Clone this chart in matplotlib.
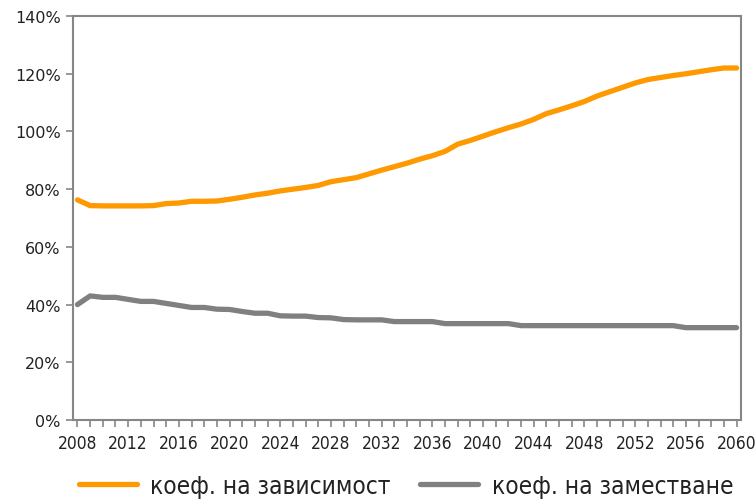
import matplotlib
matplotlib.use("Agg")
import matplotlib.pyplot as plt
from matplotlib.ticker import MultipleLocator, FuncFormatter

plt.rcParams["font.family"] = ["DejaVu Sans"]

years = list(range(2008, 2061))

# коефициент на зависимост (%)
dependency = [76.3, 74.3, 74.2, 74.2, 74.2, 74.2, 74.3, 75.0, 75.2, 75.8,
              75.8, 75.9, 76.5, 77.2, 78.0, 78.6, 79.4, 80.0, 80.6, 81.3,
              82.6, 83.3, 84.0, 85.3, 86.6, 87.8, 89.0, 90.4, 91.6, 93.1,
              95.6, 96.9, 98.4, 99.9, 101.3, 102.6, 104.2, 106.2, 107.5, 108.9,
              110.4, 112.3, 113.8, 115.3, 116.8, 118.0, 118.7, 119.4, 120.0, 120.7,
              121.4, 122.0, 122.0]

# коефициент на заместване (%)
replacement = [40.0, 43.0, 42.5, 42.5, 41.8, 41.1, 41.1, 40.4, 39.7, 39.0,
               39.0, 38.4, 38.3, 37.6, 37.0, 37.0, 36.1, 36.0, 36.0, 35.5,
               35.4, 34.8, 34.7, 34.7, 34.7, 34.1, 34.1, 34.1, 34.1, 33.4,
               33.4, 33.4, 33.4, 33.4, 33.4, 32.7, 32.7, 32.7, 32.7, 32.7,
               32.7, 32.7, 32.7, 32.7, 32.7, 32.7, 32.7, 32.7, 32.0, 32.0,
               32.0, 32.0, 32.0]

labels = ["коеф. на зависимост", "коеф. на заместване"]
colors = ["#FF9900", "#808080"]
axis_gray = "#868686"

fig = plt.figure(figsize=(7.56, 5.02), dpi=100)
ax = fig.add_axes([0.0966, 0.1614, 0.8836, 0.8046])

ax.plot(years, dependency, color=colors[0], linewidth=3.8,
        solid_capstyle="round", label=labels[0])
ax.plot(years, replacement, color=colors[1], linewidth=3.8,
        solid_capstyle="round", label=labels[1])

ax.set_xlim(2007.65, 2060.35)
ax.set_ylim(0, 140)

ax.yaxis.set_major_locator(MultipleLocator(20))
ax.yaxis.set_major_formatter(FuncFormatter(lambda v, p: f"{v:.0f}%"))
ax.set_xticks(years[::4])
ax.set_xticks(years, minor=True)

for sp in ax.spines.values():
    sp.set_color(axis_gray)
    sp.set_linewidth(1.5)

ax.tick_params(axis="y", direction="out", length=5, width=1.2,
               color=axis_gray, labelsize=11.5, pad=4)
ax.tick_params(axis="x", which="both", direction="out", length=5, width=1.2,
               color=axis_gray, pad=5)
for lab in ax.get_yticklabels():
    lab.set_color("#222222")
for lab in ax.get_xticklabels():
    lab.set_fontsize(12.5)
    lab.set_fontstretch("condensed")
    lab.set_color("#222222")

leg = fig.legend(loc="center", bbox_to_anchor=(0.537, 1 - 487 / 502), ncol=2,
                 frameon=False, handlelength=2.4, columnspacing=1.2,
                 handletextpad=0.55,
                 prop={"size": 17.5, "stretch": "condensed"})
for txt in leg.get_texts():
    txt.set_color("#222222")
for line in leg.get_lines():
    line.set_linewidth(3.8)

fig.savefig("out.png", dpi=100)
